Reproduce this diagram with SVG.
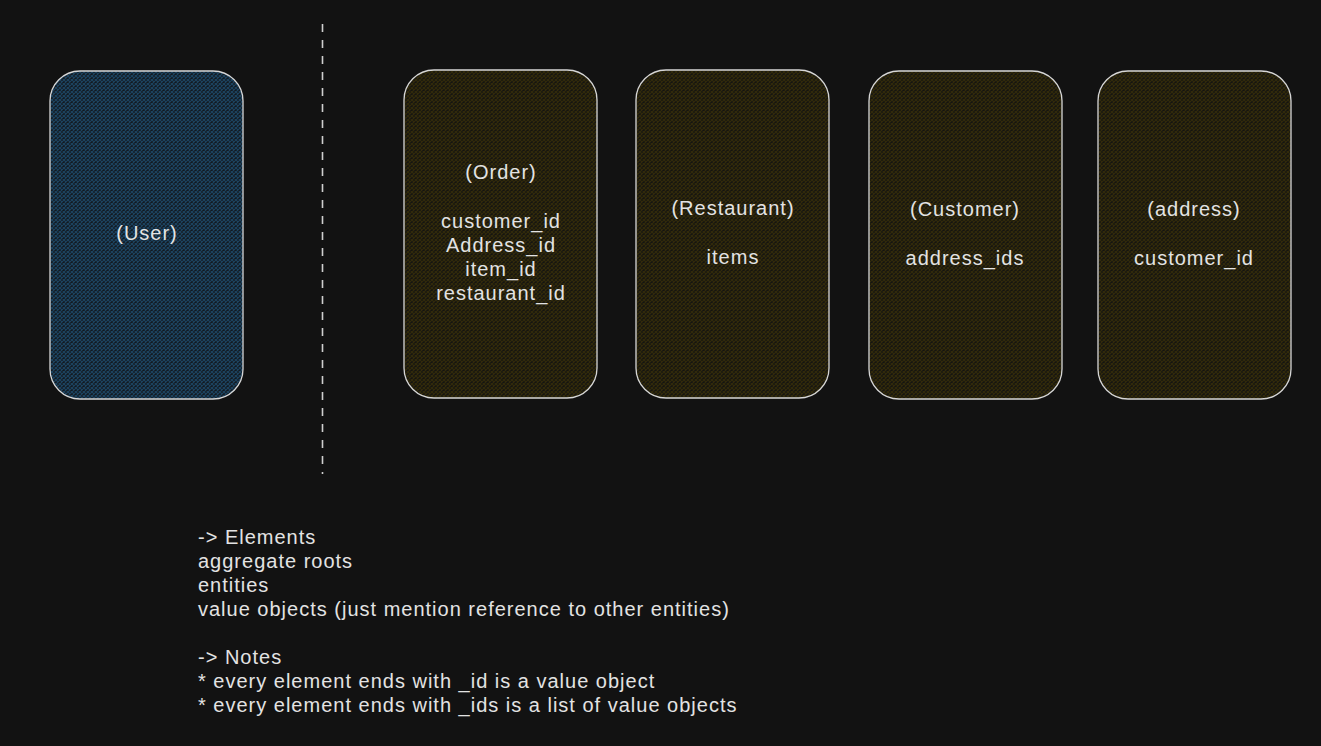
<svg xmlns="http://www.w3.org/2000/svg" width="1321" height="746" viewBox="0 0 1321 746">
<style>
.t{font-family:"Liberation Sans","Noto Sans",sans-serif;font-size:20px;letter-spacing:1px;fill:#e3e3e3}
.c{text-anchor:middle}
.box{stroke:#d6d6d6;stroke-width:1.3}
</style>
<defs>
<pattern id="hb" width="4" height="4" patternUnits="userSpaceOnUse">
<rect width="4" height="4" fill="#121920"/>
<path d="M0,0 L4,4 M4,0 L0,4" stroke="#1c4360" stroke-width="1.2"/>
</pattern>
<pattern id="hy" width="4" height="4" patternUnits="userSpaceOnUse">
<rect width="4" height="4" fill="#151410"/>
<path d="M0,0 L4,4 M4,0 L0,4" stroke="#322a0a" stroke-width="1.2"/>
</pattern>
</defs>
<rect width="1321" height="746" fill="#121212"/>
<g id="connectors">
<line x1="322.5" y1="24" x2="322.5" y2="474" stroke="#cfcfcf" stroke-width="1.6" stroke-dasharray="8 8"/>
</g>
<g id="user">
<rect class="box" x="50" y="71" width="193" height="328" rx="30" fill="url(#hb)"/>
<text class="t c" x="147" y="240">(User)</text>
</g>
<g id="order">
<rect class="box" x="404" y="70" width="193" height="328" rx="30" fill="url(#hy)"/>
<text class="t c" x="501" y="179">(Order)</text>
<text class="t c" x="501" y="228">customer_id</text>
<text class="t c" x="501" y="252">Address_id</text>
<text class="t c" x="501" y="276">item_id</text>
<text class="t c" x="501" y="300">restaurant_id</text>
</g>
<g id="restaurant">
<rect class="box" x="636" y="70" width="193" height="328" rx="30" fill="url(#hy)"/>
<text class="t c" x="733" y="215">(Restaurant)</text>
<text class="t c" x="733" y="264">items</text>
</g>
<g id="customer">
<rect class="box" x="869" y="71" width="193" height="328" rx="30" fill="url(#hy)"/>
<text class="t c" x="965" y="216">(Customer)</text>
<text class="t c" x="965" y="265">address_ids</text>
</g>
<g id="address">
<rect class="box" x="1098" y="71" width="193" height="328" rx="30" fill="url(#hy)"/>
<text class="t c" x="1194" y="216">(address)</text>
<text class="t c" x="1194" y="265">customer_id</text>
</g>
<g id="notes">
<text class="t" x="198" y="544">-&gt; Elements</text>
<text class="t" x="198" y="568">aggregate roots</text>
<text class="t" x="198" y="592">entities</text>
<text class="t" x="198" y="616">value objects (just mention reference to other entities)</text>
<text class="t" x="198" y="664">-&gt; Notes</text>
<text class="t" x="198" y="688">* every element ends with _id is a value object</text>
<text class="t" x="198" y="712">* every element ends with _ids is a list of value objects</text>
</g>
</svg>
